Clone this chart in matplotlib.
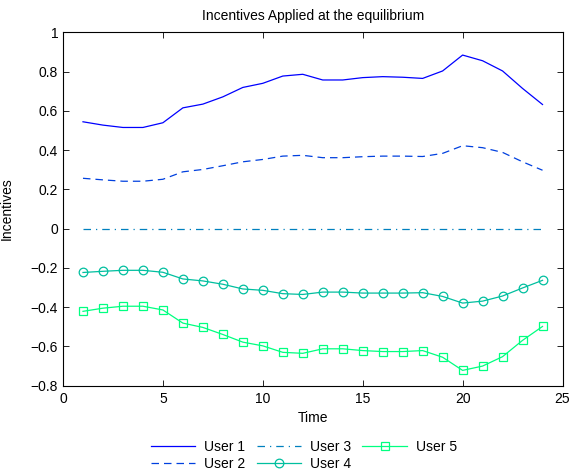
import matplotlib
matplotlib.use("Agg")
import matplotlib.pyplot as plt

plt.rcParams['font.family'] = ['Liberation Sans', 'DejaVu Sans']

time = list(range(1, 25))
user1 = [0.544, 0.527, 0.515, 0.515, 0.539, 0.615, 0.634, 0.671, 0.719, 0.740, 0.777, 0.786,
         0.757, 0.757, 0.769, 0.774, 0.771, 0.765, 0.803, 0.884, 0.855, 0.803, 0.714, 0.632]
user2 = [0.256, 0.248, 0.241, 0.241, 0.251, 0.289, 0.301, 0.320, 0.340, 0.352, 0.369, 0.373,
         0.361, 0.361, 0.366, 0.369, 0.369, 0.367, 0.383, 0.422, 0.412, 0.388, 0.340, 0.297]
user3 = [0.0] * 24
user4 = [-0.224, -0.218, -0.213, -0.213, -0.223, -0.257, -0.267, -0.284, -0.308, -0.315, -0.332, -0.336,
         -0.324, -0.324, -0.329, -0.329, -0.329, -0.327, -0.346, -0.380, -0.370, -0.344, -0.303, -0.264]
user5 = [-0.422, -0.406, -0.396, -0.396, -0.415, -0.482, -0.504, -0.540, -0.579, -0.598, -0.631, -0.636,
         -0.613, -0.613, -0.622, -0.627, -0.627, -0.622, -0.656, -0.723, -0.701, -0.653, -0.570, -0.499]

labels = ['User 1', 'User 2', 'User 3', 'User 4', 'User 5']
colors = [(0, 0, 1), (0, 0.25, 0.875), (0, 0.5, 0.75), (0, 0.75, 0.625), (0, 1, 0.5)]
yticks = [-0.8, -0.6, -0.4, -0.2, 0, 0.2, 0.4, 0.6, 0.8, 1]
yticklabels = ['\u22120.8', '\u22120.6', '\u22120.4', '\u22120.2', '0', '0.2', '0.4', '0.6', '0.8', '1']
xticks = [0, 5, 10, 15, 20, 25]

fig = plt.figure(figsize=(5.71, 4.70), dpi=100)
ax = fig.add_axes([63/571, 1 - 385.5/470, 499.5/571, 353.2/470])

ax.plot(time, user1, '-', color=colors[0], lw=0.9, label=labels[0])
ax.plot(time, user2, '--', color=colors[1], lw=0.9, dashes=(6, 4), label=labels[1])
ax.plot(time, user3, '-.', color=colors[2], lw=0.9, dashes=(6, 4, 1, 4), label=labels[2])
ax.plot(time, user4, '-', color=colors[3], lw=0.9, marker='o', ms=6.2, mfc='none', mew=0.9, label=labels[3])
ax.plot(time, user5, '-', color=colors[4], lw=0.9, marker='s', ms=5.5, mfc='none', mew=0.9, label=labels[4])

ax.set_xlim(0, 25)
ax.set_ylim(-0.8, 1)
ax.set_xticks(xticks)
ax.set_yticks(yticks)
ax.set_yticklabels(yticklabels)
ax.tick_params(direction='in', top=True, right=True, labelsize=10, length=4, width=0.6)
ax.tick_params(axis='x', pad=5)
for s in ax.spines.values():
    s.set_linewidth(0.8)
ax.set_xlabel('Time', fontsize=10, labelpad=3)
ax.set_ylabel('Incentives', fontsize=10, labelpad=12)
ax.set_title('Incentives Applied at the equilibrium', fontsize=10, pad=9)

fig.legend(loc='center', bbox_to_anchor=(304/571, 1 - 455.5/470), ncol=3, frameon=False,
           fontsize=10, handlelength=3.2, columnspacing=0.8, labelspacing=0.2, handletextpad=0.65,
           borderpad=0)

fig.savefig('out.png', dpi=100)
